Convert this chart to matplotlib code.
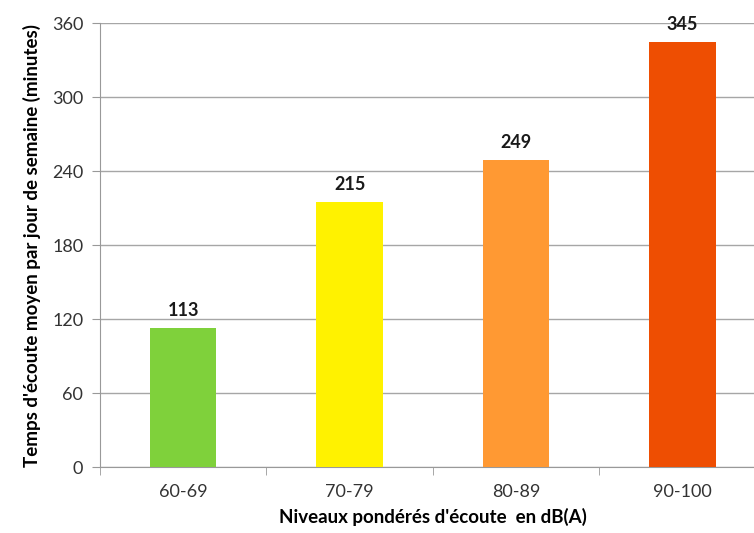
import matplotlib
matplotlib.use("Agg")
import matplotlib.pyplot as plt

categories = ["60-69", "70-79", "80-89", "90-100"]
values = [113, 215, 249, 345]
colors = ["#7FD13B", "#FFF200", "#FF9933", "#EE4E02"]

plt.rcParams['font.family'] = ['Lato', 'DejaVu Sans']

fig = plt.figure(figsize=(7.54, 5.33), dpi=100)
ax = fig.add_axes([0.1326, 0.1238, 0.883, 0.833])

x = range(len(categories))
ax.bar(x, values, width=0.4, color=colors, zorder=3)
for xi, v in zip(x, values):
    ax.text(xi, v + 7, str(v), ha='center', va='bottom', fontsize=13, fontweight='bold', color='#1a1a1a', zorder=4)

ax.set_xlim(-0.5, 3.5)
ax.set_ylim(0, 360)
ax.set_yticks(range(0, 361, 60))
ax.set_xticks(list(x))
ax.set_xticklabels(categories)
ax.set_xticks([i - 0.5 for i in range(5)], minor=True)
ax.tick_params(axis='x', which='major', length=0, pad=12, labelsize=13, labelcolor='#333333')
ax.tick_params(axis='x', which='minor', length=6, color='#999999')
ax.tick_params(axis='y', length=6, color='#999999', labelsize=13, labelcolor='#333333', pad=6)

ax.grid(axis='y', color='#a6a6a6', linewidth=1, zorder=0)
for s in ['top', 'right']:
    ax.spines[s].set_visible(False)
for s in ['left', 'bottom']:
    ax.spines[s].set_color('#999999')

ax.set_xlabel("Niveaux pondérés d'écoute  en dB(A)", fontsize=13.5, fontweight='bold', labelpad=6)
ax.set_ylabel("Temps d'écoute moyen par jour de semaine (minutes)", fontsize=13.5, fontweight='bold', labelpad=8)

fig.savefig("out.png", dpi=100)
